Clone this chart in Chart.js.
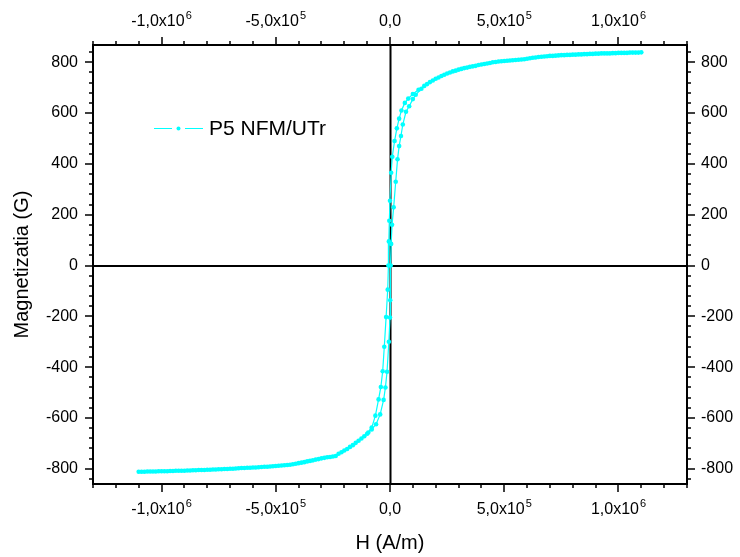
<!DOCTYPE html>
<html><head><meta charset="utf-8">
<script src="https://cdn.jsdelivr.net/npm/chart.js@4/dist/chart.umd.min.js"></script>
<style>html,body{margin:0;padding:0;background:#fff;}</style>
</head><body>
<canvas id="c" width="740" height="557"></canvas>
<script>
// ---- data (H in A/m, M in G) ----
const hDown = [1100000,1075000,1050000,1025000,1000000,975000,950000,925000,900000,875000,850000,825000,800000,775000,750000,725000,700000,675000,650000,625000,600000,575000,550000,525000,500000,475000,450000,425000,400000,375000,350000,325000,300000,275000,250000,225000,200000,175000,150000,
125000,100000,80000,65000,50000,40000,30000,20000,10000,5000,0,-3000,-5000,-7000,-10000,-17000,-25000,-32000,-40000,-50000,-64000,-80000,-100000,-125000,-150000,
-175000,-200000,-225000,-250000,-275000,-300000,-325000,-350000,-375000,-400000,-425000,-450000,-475000,-500000,-525000,-550000,-575000,-600000,-625000,-650000,-675000,-700000,-725000,-750000,-775000,-800000,-825000,-850000,-875000,-900000,-925000,-950000,-975000,-1000000,-1025000,-1050000,-1075000,-1100000];
const mDown = [839,838,838,837,837,836,835,835,834,833,832,831,830,829,828,826,825,823,821,818,814,811,809,807,805,803,800,795,791,786,782,777,771,764,756,746,735,722,707,
692,675,657,640,610,578,540,490,428,365,255,176,95,0,-95,-203,-320,-416,-478,-527,-591,-638,-662,-681,-698,
-714,-728,-741,-752,-755,-759,-764,-769,-774,-778,-782,-785,-787,-789,-791,-792,-794,-795,-796,-797,-799,-800,-801,-802,-803,-804,-805,-806,-807,-808,-808,-809,-810,-810,-811,-811,-812,-812];
const hUp = [-1087500,-1062500,-1037500,-1012500,-987500,-962500,-937500,-912500,-887500,-862500,-837500,-812500,-787500,-762500,-737500,-712500,-687500,-662500,-637500,-612500,-587500,-562500,-537500,-512500,-487500,-462500,-437500,-412500,-387500,-362500,-337500,-312500,-287500,-262500,-237500,-212500,-187500,-162500,-137500,-112500,
-95000,-80000,-61000,-43000,-28000,-20000,-13000,-5000,0,1000,3000,5000,9000,16000,25000,33000,40000,48000,56000,70000,84000,100000,112500,137500,
162500,187500,212500,237500,262500,287500,312500,337500,362500,387500,412500,437500,462500,487500,512500,537500,562500,587500,612500,637500,662500,687500,712500,737500,762500,787500,812500,837500,862500,887500,912500,937500,962500,987500,1012500,1037500,1062500,1087500];
const mUp = [-812,-811,-811,-810,-810,-809,-808,-808,-807,-806,-805,-805,-804,-803,-802,-801,-800,-798,-797,-796,-795,-793,-792,-790,-788,-786,-784,-780,-776,-771,-767,-762,-757,-754,-750,-735,-722,-707,-690,-672,
-657,-645,-625,-586,-529,-480,-418,-300,-205,-137,0,85,160,229,330,418,470,510,555,605,627,655,672,696,
714,728,740,751,760,767,774,779,784,789,793,797,801,804,806,808,810,812,816,819,822,824,825,827,828,829,830,831,832,833,834,835,835,836,837,837,838,838];

const xMajorTicks = [-1000000,-500000,0,500000,1000000];
const xTickBase = ['-1,0x10','-5,0x10','0,0','5,0x10','1,0x10'];
const xTickExp  = ['6','5','','5','6'];
const yMajorTicks = [-800,-600,-400,-200,0,200,400,600,800];
const seriesLabel = 'P5 NFM/UTr';
const xTitle = 'H (A/m)';
const yTitle = 'Magnetizatia (G)';

const FONT = '"Liberation Sans", Arial, Helvetica, sans-serif';
const CYAN = '#00FFFF';
Chart.defaults.font.family = FONT;
Chart.defaults.color = '#000';

const toPts = (hs, ms) => hs.map((h, i) => ({x: h, y: ms[i]}));

const decor = {
  id: 'decor',
  beforeDatasetsDraw(chart) {
    const {ctx, chartArea: a, scales: {x, y}} = chart;
    ctx.save();
    ctx.strokeStyle = '#000';
    ctx.lineWidth = 2;
    const x0 = Math.round(x.getPixelForValue(0)) + 0.5;
    const y0 = Math.round(y.getPixelForValue(0));
    ctx.beginPath();
    ctx.moveTo(x0, a.top); ctx.lineTo(x0, a.bottom);
    ctx.moveTo(a.left, y0); ctx.lineTo(a.right, y0);
    ctx.stroke();
    ctx.restore();
  },
  afterDraw(chart) {
    const {ctx, chartArea: a, scales: {x, y}} = chart;
    ctx.save();
    ctx.strokeStyle = '#000';
    ctx.lineWidth = 2;
    ctx.strokeRect(a.left, a.top, a.right - a.left, a.bottom - a.top);
    ctx.lineWidth = 1.5;
    ctx.beginPath();
    for (let k = -13; k <= 13; k++) {
      const px = Math.round(x.getPixelForValue(k * 100000));
      const len = (k % 5 === 0) ? 8 : 4;
      ctx.moveTo(px, a.bottom); ctx.lineTo(px, a.bottom + len);
      ctx.moveTo(px, a.top); ctx.lineTo(px, a.top - len);
    }
    for (let k = -21; k <= 21; k++) {
      const v = k * 40;
      if (v < y.min || v > y.max) continue;
      const py = Math.round(y.getPixelForValue(v));
      const len = (v % 200 === 0) ? 8 : 4;
      ctx.moveTo(a.left, py); ctx.lineTo(a.left - len, py);
      ctx.moveTo(a.right, py); ctx.lineTo(a.right + len, py);
    }
    ctx.stroke();
    ctx.fillStyle = '#000';
    ctx.textBaseline = 'alphabetic';
    ctx.textAlign = 'left';
    const baseFont = '16px ' + FONT, expFont = '11px ' + FONT;
    xMajorTicks.forEach((v, i) => {
      const px = x.getPixelForValue(v);
      ctx.font = baseFont; const wb = ctx.measureText(xTickBase[i]).width;
      ctx.font = expFont; const we = xTickExp[i] ? ctx.measureText(xTickExp[i]).width + 1 : 0;
      const sx = px - (wb + we) / 2;
      [a.bottom + 30, a.top - 19].forEach(by => {
        ctx.font = baseFont; ctx.fillText(xTickBase[i], sx, by);
        if (xTickExp[i]) { ctx.font = expFont; ctx.fillText(xTickExp[i], sx + wb + 1, by - 7); }
      });
    });
    const ly = 128;
    ctx.strokeStyle = CYAN; ctx.lineWidth = 1;
    ctx.beginPath();
    ctx.moveTo(154, ly + 0.5); ctx.lineTo(172, ly + 0.5);
    ctx.moveTo(185, ly + 0.5); ctx.lineTo(203, ly + 0.5);
    ctx.stroke();
    ctx.fillStyle = CYAN;
    ctx.beginPath(); ctx.arc(178.5, ly + 0.5, 2, 0, Math.PI * 2); ctx.fill();
    ctx.fillStyle = '#000';
    ctx.font = '21px ' + FONT;
    ctx.textBaseline = 'middle';
    ctx.fillText(seriesLabel, 209, ly + 1);
    ctx.restore();
  }
};

const ds = (label, pts) => ({
  label, data: pts, showLine: true, borderColor: CYAN, backgroundColor: CYAN,
  borderWidth: 1.2, pointRadius: 2.3, pointHoverRadius: 2.3, pointBorderWidth: 0, tension: 0
});

new Chart(document.getElementById('c'), {
  type: 'scatter',
  data: { datasets: [ds(seriesLabel, toPts(hDown, mDown)), ds(seriesLabel + ' up', toPts(hUp, mUp))] },
  options: {
    responsive: false, animation: false, devicePixelRatio: 1,
    layout: { padding: 0 },
    plugins: { legend: { display: false }, tooltip: { enabled: false } },
    scales: {
      x: {
        type: 'linear', position: 'bottom', min: -1300000, max: 1300000,
        grid: { display: false, drawTicks: false }, border: { display: false },
        ticks: { display: false },
        afterBuildTicks: s => { s.ticks = xMajorTicks.map(v => ({ value: v })); },
        title: { display: true, text: xTitle, font: { size: 20 }, color: '#000', padding: { top: 0, bottom: 2 } },
        afterFit: s => { s.height = 73; }
      },
      x2: {
        type: 'linear', position: 'top', min: -1300000, max: 1300000,
        grid: { display: false, drawTicks: false }, border: { display: false },
        ticks: { display: false },
        afterBuildTicks: s => { s.ticks = xMajorTicks.map(v => ({ value: v })); },
        afterFit: s => { s.height = 45; }
      },
      y: {
        type: 'linear', position: 'left', min: -860, max: 868,
        grid: { display: false, drawTicks: false }, border: { display: false },
        afterBuildTicks: s => { s.ticks = yMajorTicks.map(v => ({ value: v })); },
        ticks: { font: { size: 16 }, color: '#000', padding: 15 },
        title: { display: true, text: yTitle, font: { size: 20 }, color: '#000', padding: { top: 10, bottom: 0 } },
        afterFit: s => { s.width = 93; }
      },
      y2: {
        type: 'linear', position: 'right', min: -860, max: 868,
        grid: { display: false, drawTicks: false }, border: { display: false },
        afterBuildTicks: s => { s.ticks = yMajorTicks.map(v => ({ value: v })); },
        ticks: { font: { size: 16 }, color: '#000', padding: 14 },
        afterFit: s => { s.width = 53; }
      }
    }
  },
  plugins: [decor]
});
</script>
</body></html>
